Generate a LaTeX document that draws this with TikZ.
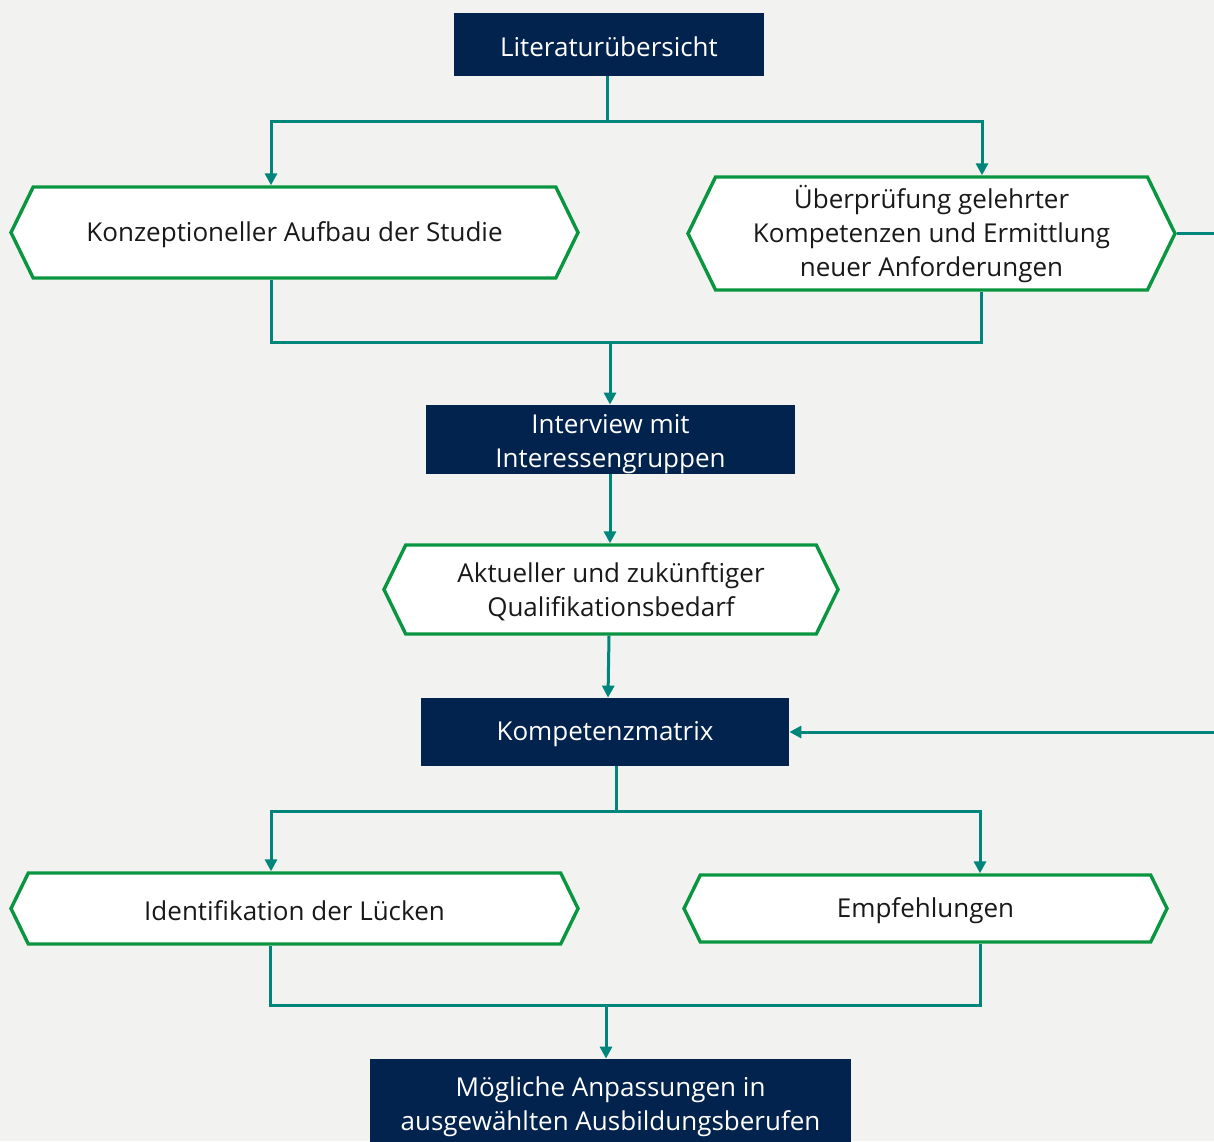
\documentclass[tikz,border=0pt]{standalone}
\usepackage{fontspec}
\setmainfont{Open Sans}
\usetikzlibrary{shapes.symbols,arrows.meta}
\definecolor{bgcol}{HTML}{F2F2F0}
\definecolor{navy}{HTML}{01234D}
\definecolor{hexgreen}{HTML}{0A9640}
\definecolor{teal}{HTML}{00857A}
\tikzset{
  navybox/.style={rectangle, fill=navy, text=white, align=center, inner sep=0pt,
    execute at begin node={\rule{0pt}{#1}}},
  navybox/.default=12pt,
  hexbox/.style={signal, signal to=west and east, signal pointer angle=128,
    draw=hexgreen, line width=1.7pt, fill=white, text=black!90, align=center, inner sep=0pt,
    execute at begin node={\rule{0pt}{#1}}},
  hexbox/.default=12pt,
  flow/.style={teal, line width=1.5pt},
  flowarrow/.style={flow, -{Triangle[width=6pt,length=6pt]}}
}
\begin{document}
\begin{tikzpicture}[x=0.5pt,y=-0.5pt,font=\fontsize{13}{17}\selectfont]
\useasboundingbox[fill=bgcol] (0,0) rectangle (1214,1141);
\clip (0,0) rectangle (1214,1141);
% boxes
\node[navybox, minimum width=155pt, minimum height=31.5pt] (lit) at (609,44.5) {Literaturübersicht};
\node[hexbox, minimum width=283.5pt, minimum height=45.5pt] (konz) at (294.5,232.5) {Konzeptioneller Aufbau der Studie};
\node[hexbox=46pt, minimum width=243.5pt, minimum height=56.5pt] (ueber) at (931.5,233.5) {Überprüfung gelehrter\\Kompetenzen und Ermittlung\\neuer Anforderungen};
\node[navybox=31pt, minimum width=184.5pt, minimum height=34.5pt] (inter) at (610.5,439.5) {Interview mit\\Interessengruppen};
\node[hexbox=29.5pt, minimum width=227pt, minimum height=44.5pt] (bedarf) at (611,589.5) {Aktueller und zukünftiger\\Qualifikationsbedarf};
\node[navybox, minimum width=184pt, minimum height=34pt] (matrix) at (605,732) {Kompetenzmatrix};
\node[hexbox, minimum width=283.5pt, minimum height=35.5pt] (luecken) at (294.5,908.5) {Identifikation der Lücken};
\node[hexbox, minimum width=241.5pt, minimum height=33.5pt] (empf) at (925.5,908.5) {Empfehlungen};
\node[navybox=30pt, minimum width=240.5pt, minimum height=45pt] (anpass) at (610.5,1104) {Mögliche Anpassungen in\\ausgewählten Ausbildungsberufen};
% connectors
\coordinate (j1) at (607,121);
\coordinate (j2) at (610,342);
\coordinate (j3) at (616,811);
\coordinate (j4) at (606,1005);
\draw[flow] (lit.south -| j1) -- (j1);
\draw[flowarrow] (j1) -| ([xshift=-11.75pt]konz.north);
\draw[flowarrow] (j1) -| ([xshift=25.25pt]ueber.north);
\draw[flow] ([xshift=-11.75pt]konz.south) |- (j2) -| ([xshift=24.75pt]ueber.south);
\draw[flowarrow] (j2) -- (inter.north -| j2);
\draw[flowarrow] (inter.south -| j2) -- (bedarf.north -| j2);
\draw[flowarrow] ([xshift=-1pt]bedarf.south) -- ([xshift=1.5pt]matrix.north);
\draw[flowarrow] (ueber.east) -- ++(80,0) |- (matrix.east);
\draw[flow] (matrix.south -| j3) -- (j3);
\draw[flowarrow] (j3) -| ([xshift=-11.75pt]luecken.north);
\draw[flowarrow] (j3) -| ([xshift=27.25pt]empf.north);
\draw[flow] ([xshift=-12.25pt]luecken.south) |- (j4) -| ([xshift=27.25pt]empf.south);
\draw[flowarrow] (j4) -- (anpass.north -| j4);
\end{tikzpicture}
\end{document}
